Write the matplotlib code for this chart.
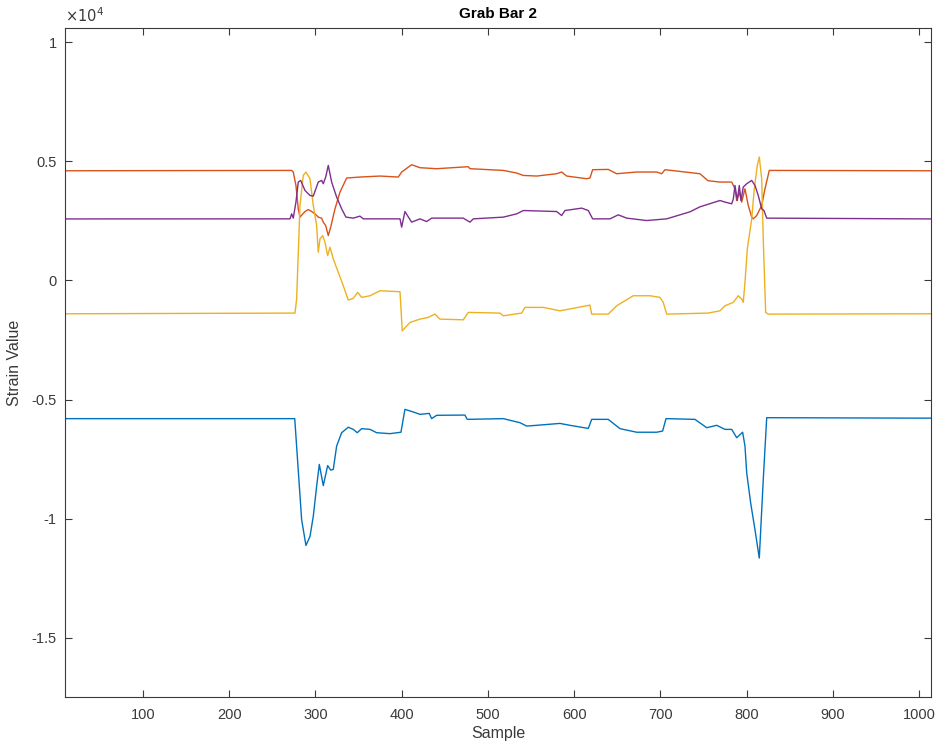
import matplotlib
matplotlib.use('Agg')
import matplotlib.pyplot as plt
from matplotlib.ticker import FuncFormatter

plt.rcParams['font.family'] = ['Liberation Sans', 'DejaVu Sans']
plt.rcParams['axes.unicode_minus'] = False

# strain channels (sample, value)
ch1_x = [10, 276, 284, 289, 293.7, 297.5, 301.4, 304.5, 309.1, 314.2, 317.7, 320.7, 324.6, 330.4,
         338.1, 343.9, 348.5, 353.6, 363.3, 371, 386.4, 399.2, 403.8, 413.5, 421.2, 432, 434.8,
         440.6, 473.4, 476.1, 517.9, 537.2, 545, 556.6, 583.6, 595.2, 616.5, 620.4, 639.6, 653.2,
         672.6, 695.8, 702.7, 706.6, 740.2, 753.8, 765.4, 775, 782.8, 788.6, 795.5, 798.2, 800.2,
         804.8, 809.8, 814.8, 819.4, 823.4, 1014]
ch1_y = [-5800, -5800, -10040, -11120, -10740, -9900, -8640, -7720, -8610, -7770, -7960, -7930,
         -6950, -6390, -6160, -6250, -6390, -6220, -6250, -6390, -6430, -6370, -5410, -5520, -5620,
         -5580, -5800, -5660, -5650, -5830, -5800, -5970, -6110, -6080, -6000, -6080, -6210, -5830,
         -5830, -6220, -6370, -6370, -6320, -5800, -5830, -6180, -6080, -6250, -6250, -6600, -6370,
         -6950, -8070, -9340, -10460, -11650, -8360, -5760, -5780]

ch2_x = [10, 272.4, 274.3, 277.4, 280.1, 282.1, 287.9, 291.7, 295.6, 299.5, 303.3, 307.2, 309.1,
         311.9, 314.9, 317.7, 322.7, 328.5, 336.2, 351.6, 374.9, 396.1, 400, 411.6, 421.2, 440.6,
         477.3, 479.2, 517.9, 533.4, 541.1, 556.6, 579.8, 585.6, 591.4, 614.6, 618.4, 621.5, 639.6,
         649.4, 672.6, 695.8, 701.6, 705.4, 746, 755.3, 769.2, 782.8, 786.6, 788.6, 791.6, 794.4,
         798.2, 802, 806, 807.8, 811.8, 817.6, 821.4, 826.4, 1014]
ch2_y = [4600, 4615, 4548, 3984, 3004, 2655, 2890, 2974, 2890, 2793, 2655, 2613, 2444, 2301, 1881,
         2234, 3004, 3706, 4295, 4337, 4379, 4337, 4548, 4855, 4729, 4687, 4771, 4687, 4615, 4506,
         4405, 4379, 4476, 4548, 4379, 4266, 4295, 4645, 4657, 4476, 4548, 4548, 4476, 4645, 4476,
         4182, 4127, 4127, 3845, 3353, 3706, 3286, 3845, 3143, 2655, 2583, 2722, 3143, 3845, 4615,
         4600]

ch3_x = [10, 276.3, 278.2, 282.1, 285.9, 289, 293.7, 297.5, 301.4, 303.3, 305.3, 308.4, 311.1,
         314.2, 316.9, 320.7, 326.5, 332.3, 338.1, 343.9, 349, 353.6, 363.3, 374.9, 398.1, 400.7,
         409.7, 421.2, 430.9, 438.6, 444.4, 471.5, 477.3, 514, 517.9, 539.2, 543, 564.3, 583.6,
         614.6, 618.4, 620.4, 639.6, 649.4, 668.6, 688, 699.6, 703.4, 707.4, 755.3, 769.2, 775,
         784.7, 790.4, 794.4, 796.2, 798.2, 800.9, 806, 809, 812.5, 814.8, 817.6, 819.4, 822.2,
         825.2, 1014]
ch3_y = [-1400, -1371, -783, 3143, 4405, 4548, 4266, 3143, 2301, 1182, 1742, 1881, 1603, 1039,
         1393, 900, 341, -223, -825, -753, -501, -711, -644, -433, -475, -2116, -1763, -1624, -1552,
         -1414, -1624, -1653, -1342, -1371, -1485, -1371, -1132, -1132, -1275, -1064, -1035, -1414,
         -1414, -1064, -644, -644, -711, -921, -1414, -1371, -1275, -1064, -921, -644, -783, -921,
         -80, 1321, 2583, 3845, 4825, 5179, 4266, 1742, -1342, -1414, -1400]

ch4_x = [10, 270.5, 272.4, 274.3, 277.4, 280.1, 282.9, 287.9, 293.7, 297.5, 303.3, 307.2, 309.1,
         311.9, 314.9, 318.8, 324.6, 330.4, 335.4, 343.9, 351.6, 355.5, 398.1, 400, 403.8, 411.6,
         421.2, 429, 434.8, 471.5, 479.2, 483.1, 517.9, 533.4, 541.1, 579.8, 585.6, 589.4, 608.8,
         616.5, 621.5, 641.6, 651.2, 661, 684.2, 707.4, 734.4, 746, 769.2, 775, 782.8, 784.7, 786.6,
         789.3, 791.6, 793.6, 796.2, 800.2, 806, 809.8, 813.6, 817.6, 820.2, 823.4, 1014]
ch4_y = [2580, 2583, 2793, 2613, 3286, 4127, 4194, 3774, 3563, 3538, 4127, 4194, 4056, 4337, 4825,
         4127, 3496, 3004, 2655, 2613, 2697, 2583, 2583, 2234, 2890, 2444, 2583, 2469, 2613, 2613,
         2444, 2583, 2655, 2793, 2932, 2890, 2722, 2932, 3033, 2932, 2583, 2583, 2751, 2613, 2512,
         2583, 2878, 3088, 3353, 3286, 3214, 3425, 3984, 3353, 3984, 3353, 3917, 4056, 4194, 3984,
         3563, 3004, 2932, 2613, 2580]

fig = plt.figure(figsize=(9.36, 7.45), dpi=100)
ax = fig.add_axes([0.0694, 0.0644, 0.9253, 0.898])

ax.plot(ch1_x, ch1_y, color='#0072BD', lw=1.0)
ax.plot(ch2_x, ch2_y, color='#D95319', lw=1.0)
ax.plot(ch3_x, ch3_y, color='#EDB120', lw=1.0)
ax.plot(ch4_x, ch4_y, color='#7E2F8E', lw=1.0)

ax.set_xlim(9.5, 1014)
ax.set_ylim(-17480, 10590)
ax.set_xticks(range(100, 1001, 100))
ax.set_yticks([-15000, -10000, -5000, 0, 5000, 10000])
ax.yaxis.set_major_formatter(FuncFormatter(lambda v, p: '%g' % (v / 1e4)))

gray = '#3a3a3a'
for s in ax.spines.values():
    s.set_color(gray)
    s.set_linewidth(0.8)
ax.tick_params(direction='in', top=True, right=True, length=5, width=0.8,
               colors=gray, labelsize=10.5, labelcolor=gray)
ax.tick_params(axis='x', pad=8)
ax.tick_params(axis='y', pad=6)

ax.text(0, 1.004, r'$\times10^{4}$', transform=ax.transAxes, fontsize=10.5,
        color=gray, ha='left', va='bottom')
ax.set_title('Grab Bar 2', fontsize=11, fontweight='bold', color='black', pad=7)
ax.set_xlabel('Sample', fontsize=11.5, color=gray, labelpad=3)
ax.set_ylabel('Strain Value', fontsize=11.5, color=gray, labelpad=7)

fig.savefig('out.png', dpi=100)
